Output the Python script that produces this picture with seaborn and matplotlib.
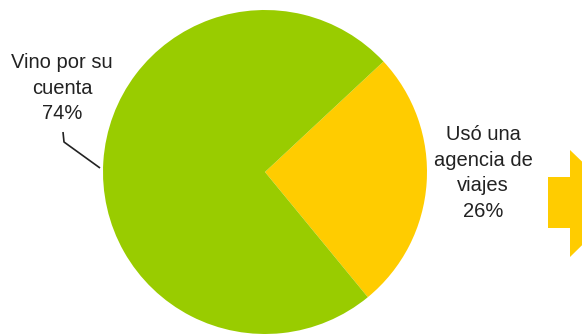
import matplotlib
matplotlib.use("Agg")
import matplotlib.pyplot as plt
import seaborn as sns
from matplotlib.patches import Polygon

categories = ["Usó una\nagencia de\nviajes", "Vino por su\ncuenta"]
values = [26, 74]
pct_labels = ["26%", "74%"]
colors = ["#FFCC00", "#99CC00"]

sns.set_theme(style="white")
plt.rcParams['font.family'] = ['Liberation Sans', 'DejaVu Sans']

W, H = 582, 334
fig = plt.figure(figsize=(W / 100, H / 100), dpi=100)
ax = fig.add_axes([0, 0, 1, 1])

def py(y):
    return H - y

pal = sns.color_palette(colors)
ax.pie(values, colors=pal, startangle=-50.6, counterclock=True,
       center=(265, py(172)), radius=162, frame=True,
       wedgeprops=dict(linewidth=0))
ax.set_xlim(0, W)
ax.set_ylim(0, H)
ax.set_aspect("equal")
ax.axis("off")

txt = "#222222"
ax.text(62, py(88), categories[1] + "\n" + pct_labels[1], ha="center", va="center",
        fontsize=14.5, color=txt, linespacing=1.42)
ax.text(483, py(173), categories[0] + "\n" + pct_labels[0], ha="center", va="center",
        fontsize=14.5, color=txt, linespacing=1.45)

# leader line
ax.plot([63, 64, 100], [py(132), py(142), py(168)], color="#222222", lw=1.2,
        solid_capstyle="butt")

# arrow on the right
arrow = Polygon([(548, py(177)), (570, py(177)), (570, py(150)), (625, py(203)),
                 (570, py(257)), (570, py(228)), (548, py(228))],
                closed=True, facecolor="#FFCC00", edgecolor="none")
ax.add_patch(arrow)

fig.savefig("out.png", dpi=100)
